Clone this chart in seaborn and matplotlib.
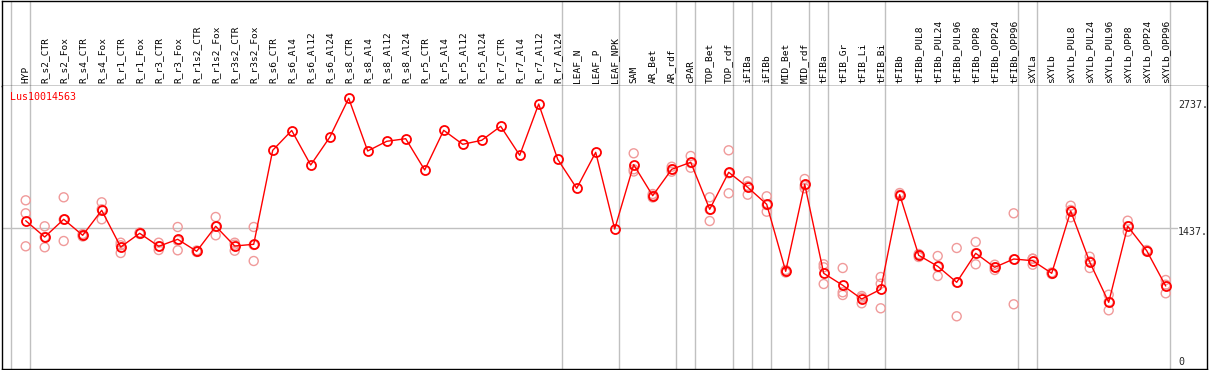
import matplotlib
matplotlib.use("Agg")
import matplotlib.pyplot as plt
import seaborn as sns
import numpy as np
import pandas as pd

# Sample names (column headers) and the per-sample mean expression
samples = ['HYP', 'R_s2_CTR', 'R_s2_Fox', 'R_s4_CTR', 'R_s4_Fox', 'R_r1_CTR', 'R_r1_Fox',
           'R_r3_CTR', 'R_r3_Fox', 'R_r1s2_CTR', 'R_r1s2_Fox', 'R_r3s2_CTR', 'R_r3s2_Fox',
           'R_s6_CTR', 'R_s6_Al4', 'R_s6_Al12', 'R_s6_Al24', 'R_s8_CTR', 'R_s8_Al4',
           'R_s8_Al12', 'R_s8_Al24', 'R_r5_CTR', 'R_r5_Al4', 'R_r5_Al12', 'R_r5_Al24',
           'R_r7_CTR', 'R_r7_Al4', 'R_r7_Al12', 'R_r7_Al24', 'LEAF_N', 'LEAF_P', 'LEAF_NPK',
           'SAM', 'AR_Bet', 'AR_rdf', 'cPAR', 'TOP_Bet', 'TOP_rdf', 'iFIBa', 'iFIBb',
           'MID_Bet', 'MID_rdf', 'tFIBa', 'tFIB_Gr', 'tFIB_Li', 'tFIB_Bi', 'tFIBb',
           'tFIBb_PUL8', 'tFIBb_PUL24', 'tFIBb_PUL96', 'tFIBb_OPP8', 'tFIBb_OPP24',
           'tFIBb_OPP96', 'sXYLa', 'sXYLb', 'sXYLb_PUL8', 'sXYLb_PUL24', 'sXYLb_PUL96',
           'sXYLb_OPP8', 'sXYLb_OPP24', 'sXYLb_OPP96']

means = [1513, 1350, 1527, 1367, 1617, 1250, 1387, 1257, 1327, 1207, 1457, 1260, 1277,
         2217, 2415, 2070, 2347, 2737, 2210, 2307, 2333, 2020, 2417, 2277, 2317,
         2457, 2167, 2680, 2127, 1837, 2197, 1430,
         2073, 1763, 2027, 2097, 1627, 1997, 1847, 1677, 1007, 1877,
         987, 867, 730, 827, 1773, 1167, 1057, 897, 1187, 1047, 1130,
         1113, 987, 1610, 1100, 697, 1457, 1213, 860]

# Replicate values (empty where only one value exists)
replicates = [
    [1717, 1587, 1257], [1457, 1350, 1247], [1747, 1524, 1310], [1380, 1367, 1355],
    [1697, 1627, 1527], [1293, 1267, 1190], [1395, 1387, 1380], [1293, 1257, 1220],
    [1450, 1314, 1217], [1215, 1207, 1200], [1550, 1454, 1367], [1293, 1273, 1213],
    [1450, 1270, 1110],
    [], [], [], [], [], [], [], [], [], [], [], [], [], [], [], [], [], [], [],
    [2187, 2027, 2005], [1780, 1763, 1745], [2053, 2027, 2003], [2160, 2090, 2043],
    [1747, 1624, 1510], [2217, 1987, 1787], [1907, 1860, 1773], [1757, 1670, 1603],
    [1020, 1007, 995], [1930, 1865, 1837],
    [1077, 1047, 880], [1040, 797, 770], [760, 743, 687], [950, 883, 637],
    [1790, 1773, 1760], [1180, 1167, 1150], [1160, 1050, 960], [1240, 895, 557],
    [1300, 1187, 1077], [1073, 1047, 1020], [1587, 1126, 677],
    [1133, 1133, 1073], [995, 987, 980], [1663, 1620, 1547], [1153, 1107, 1040],
    [773, 700, 617], [1513, 1457, 1403], [1220, 1213, 1205], [920, 873, 787],
]

# group separators drawn after these sample indices
group_ends = [0, 28, 31, 34, 35, 37, 38, 39, 41, 42, 45, 52, 53, 60]
gene = 'Lus10014563'
ref_value = 1437
max_label = 2737

idx = np.arange(len(samples))
rep_df = pd.DataFrame(
    [(i, v) for i, reps in enumerate(replicates) for v in reps], columns=['pos', 'value'])
mean_df = pd.DataFrame({'pos': idx, 'value': means})

sns.set_style('white')
plt.rcParams['font.family'] = ['DejaVu Sans Mono']

W, H = 1209, 370
fig = plt.figure(figsize=(W / 100, H / 100), dpi=100)
ax_head = fig.add_axes([1.5 / W, (H - 85.5) / H, 1205 / W, 85 / H])
ax = fig.add_axes([1.5 / W, (H - 369) / H, 1205 / W, (369 - 85.5) / H])

# pixel -> sample index mapping: x = 25.7 + 19 * i
x0, step = 25.7, 19.0
xlim = ((1.5 - x0) / step, (1206.5 - x0) / step)
for a in (ax_head, ax):
    a.set_xlim(*xlim)
    a.set_xticks([])
    a.set_yticks([])
    for s in a.spines.values():
        s.set_color('black')
        s.set_linewidth(1.0)
ax.spines['top'].set_visible(False)
ax_head.set_ylim(0, 1)
ax.set_ylim(30, 2865)

grid_col = '#c0c0c0'
seps = [-0.78] + [g + 0.25 for g in group_ends]
for a in (ax_head, ax):
    for s in seps:
        a.axvline(s, color=grid_col, lw=1.0, zorder=0)
ax.axhline(ref_value, xmax=(1177 - 1.5) / 1205, color=grid_col, lw=1.0, zorder=0)

# header labels
for i, name in enumerate(samples):
    ax_head.text(i, 0.03, name, rotation=90, ha='center', va='bottom',
                 fontsize=6.8, color='black')

# replicates then means
sns.scatterplot(data=rep_df, x='pos', y='value', ax=ax, s=42, marker='o',
                facecolors='none', edgecolor='#f09a9a', linewidth=1.0, zorder=2,
                legend=False)
sns.lineplot(data=mean_df, x='pos', y='value', ax=ax, color='red', lw=1.0,
             marker='o', markersize=6.5, markerfacecolor='none',
             markeredgecolor='red', markeredgewidth=1.3, zorder=3)
ax.set_xlabel('')
ax.set_ylabel('')

ax.text(xlim[0] + 8.5 / step, 2750, gene, color='red', fontsize=7.2,
        ha='left', va='center')
lab_x = (1178 - x0) / step
ax.text(lab_x, 2670, f'{max_label}.', fontsize=7.2, ha='left', va='center')
ax.text(lab_x, 1400, f'{ref_value}.', fontsize=7.2, ha='left', va='center')
ax.text(lab_x, 100, '0', fontsize=7.2, ha='left', va='center')

fig.savefig('out.png', dpi=100)
